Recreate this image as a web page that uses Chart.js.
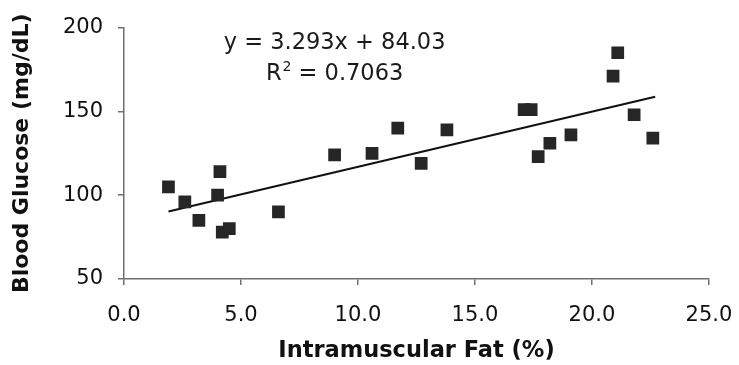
<!DOCTYPE html>
<html>
<head>
<meta charset="utf-8">
<script src="https://cdn.jsdelivr.net/npm/chart.js@4.4.1/dist/chart.umd.min.js"></script>
<style>
  html, body { margin: 0; padding: 0; background: #fff; }
  canvas { display: block; }
</style>
</head>
<body>
<canvas id="chart" width="739" height="365"></canvas>
<script>
// data
const fatPct = [1.9, 2.6, 3.2, 4.0, 4.1, 4.2, 4.5, 6.6, 9.0, 10.6, 11.7, 12.7, 13.8,
  17.1, 17.4, 17.7, 18.2, 19.1, 20.9, 21.1, 21.8, 22.6];
const glucose = [105, 96, 85, 100, 114, 78, 80, 90, 124, 125, 140, 119, 139,
  151, 151, 123, 131, 136, 171, 185, 148, 134];

// trendline from the printed equation
const slope = 3.293;
const intercept = 84.03;
const trendX = [1.9, 22.7];
const eqLine = "y = 3.293x + 84.03";
const r2Parts = ["R", "2", " = 0.7063"];

const xTicks = [0, 5, 10, 15, 20, 25];
const yTicks = [50, 100, 150, 200];

const points = fatPct.map((x, i) => ({ x: x, y: glucose[i] }));
const trend = trendX.map((x) => ({ x: x, y: slope * x + intercept }));

const FONT = "'DejaVu Sans', sans-serif";

// equation text inside the plot
const eqPlugin = {
  id: "eqLabel",
  afterDatasetsDraw(chart) {
    const { ctx, scales } = chart;
    ctx.save();
    ctx.fillStyle = "#1a1a1a";
    ctx.textBaseline = "middle";
    const cx = scales.x.getPixelForValue(9.0);
    const big = "22.5px " + FONT;
    const small = "14px " + FONT;

    ctx.font = big;
    ctx.textAlign = "center";
    ctx.fillText(eqLine, cx, scales.y.getPixelForValue(190.5));

    // R² with a real superscript
    const y2 = scales.y.getPixelForValue(172);
    ctx.font = big;
    const wR = ctx.measureText(r2Parts[0]).width;
    const wRest = ctx.measureText(r2Parts[2]).width;
    ctx.font = small;
    const w2 = ctx.measureText(r2Parts[1]).width;
    let x = cx - (wR + w2 + 1 + wRest) / 2;
    ctx.textAlign = "left";
    ctx.font = big;
    ctx.fillText(r2Parts[0], x, y2);
    x += wR + 1;
    ctx.font = small;
    ctx.fillText(r2Parts[1], x, y2 - 7);
    x += w2;
    ctx.font = big;
    ctx.fillText(r2Parts[2], x, y2);
    ctx.restore();
  },
};

new Chart(document.getElementById("chart"), {
  type: "scatter",
  data: {
    datasets: [
      {
        label: "data",
        data: points,
        pointStyle: "rect",
        pointRadius: 9,
        pointHoverRadius: 9,
        backgroundColor: "#262626",
        borderColor: "#262626",
        borderWidth: 0,
      },
      {
        type: "line",
        label: "trend",
        data: trend,
        borderColor: "#111",
        borderWidth: 2,
        pointRadius: 0,
        fill: false,
      },
    ],
  },
  options: {
    responsive: false,
    animation: false,
    devicePixelRatio: 1,
    layout: { padding: { left: 0, right: 30, top: 24, bottom: 0 } },
    plugins: {
      legend: { display: false },
      tooltip: { enabled: false },
    },
    scales: {
      x: {
        type: "linear",
        min: 0,
        max: 25,
        afterBuildTicks: (s) => { s.ticks = xTicks.map((v) => ({ value: v })); },
        afterFit: (s) => {
          s.height = 86;
          s.paddingLeft = 0;
          s.paddingRight = 0;
        },
        border: { color: "#707070", width: 1.5 },
        grid: { drawOnChartArea: false, drawTicks: true, tickLength: 6, color: "#707070", lineWidth: 1.5 },
        ticks: {
          color: "#111",
          font: { family: FONT, size: 21 },
          padding: 18,
          maxRotation: 0,
          callback: (v) => Number(v).toFixed(1),
        },
        title: {
          display: true,
          text: "Intramuscular Fat (%)",
          color: "#111",
          font: { family: FONT, size: 22.5, weight: "bold" },
          padding: { top: 0, bottom: 0 },
        },
      },
      y: {
        type: "linear",
        min: 50,
        max: 200,
        afterBuildTicks: (s) => { s.ticks = yTicks.map((v) => ({ value: v })); },
        afterFit: (s) => { s.width = 124; },
        border: { color: "#707070", width: 1.5 },
        grid: { drawOnChartArea: false, drawTicks: true, tickLength: 6, color: "#707070", lineWidth: 1.5 },
        ticks: {
          color: "#111",
          font: { family: FONT, size: 21 },
          padding: 15,
        },
        title: {
          display: true,
          text: "Blood Glucose (mg/dL)",
          color: "#111",
          font: { family: FONT, size: 22, weight: "bold" },
          padding: { top: 9, bottom: 0 },
        },
      },
    },
  },
  plugins: [eqPlugin],
});
</script>
</body>
</html>
